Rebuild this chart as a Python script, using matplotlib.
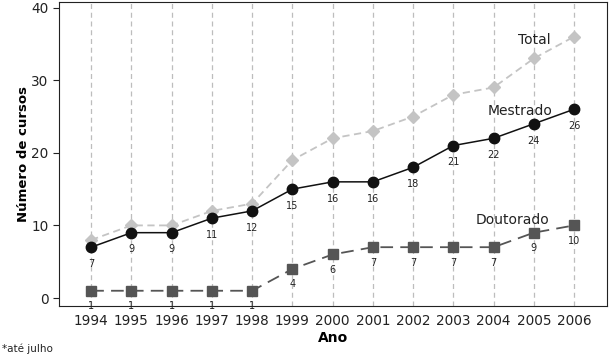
import numpy as np
import matplotlib.pyplot as plt

# --- data ---
anos = [1994, 1995, 1996, 1997, 1998, 1999, 2000, 2001, 2002, 2003, 2004, 2005, 2006]
total = [8, 10, 10, 12, 13, 19, 22, 23, 25, 28, 29, 33, 36]
mestrado = [7, 9, 9, 11, 12, 15, 16, 16, 18, 21, 22, 24, 26]
doutorado = [1, 1, 1, 1, 1, 4, 6, 7, 7, 7, 7, 9, 10]
yticks = [0, 10, 20, 30, 40]

plt.rcParams.update({'font.family': 'DejaVu Sans'})

fig = plt.figure(figsize=(6.11, 3.6), dpi=100)
ax = fig.add_axes([0.0966, 0.15, 0.897, 0.845])

# vertical dashed grid at every year
for a in anos:
    ax.axvline(a, color='#bdbdbd', linestyle=(0, (4, 3)), linewidth=0.9, zorder=0)

ax.plot(anos, total, color='#c4c4c4', linestyle=(0, (4, 2.5)), linewidth=1.3,
        marker='D', markersize=6.5, markerfacecolor='#c4c4c4', markeredgecolor='#c4c4c4', zorder=2)
ax.plot(anos, mestrado, color='#111111', linestyle='-', linewidth=1.1,
        marker='o', markersize=7.5, markerfacecolor='#111111', zorder=3)
ax.plot(anos, doutorado, color='#555555', linestyle=(0, (7, 4)), linewidth=1.3,
        marker='s', markersize=6.5, markerfacecolor='#555555', markeredgecolor='#555555', zorder=3)

# value labels under the markers
for a, m in zip(anos, mestrado):
    ax.annotate(str(m), (a, m), xytext=(0, -8.5), textcoords='offset points',
                ha='center', va='top', fontsize=7, color='#222222')
for a, d in zip(anos, doutorado):
    ax.annotate(str(d), (a, d), xytext=(0, -7.5), textcoords='offset points',
                ha='center', va='top', fontsize=7, color='#222222')

# series names
ax.text(2005.0, 35.6, 'Total', ha='center', va='center', fontsize=10, color='#222222')
ax.text(2004.66, 25.7, 'Mestrado', ha='center', va='center', fontsize=10, color='#222222')
ax.text(2004.46, 10.8, 'Doutorado', ha='center', va='center', fontsize=10, color='#222222')

ax.set_xlim(1993.2, 2006.82)
ax.set_ylim(-1.1, 40.8)
ax.set_xticks(anos)
ax.set_yticks(yticks)
ax.tick_params(axis='x', length=0, labelsize=9.8, pad=6, colors='#222222')
ax.tick_params(axis='y', length=4, labelsize=9.8, colors='#222222')
for s in ax.spines.values():
    s.set_color('#222222')

ax.set_xlabel('Ano', fontsize=10, fontweight='bold', labelpad=2)
ax.set_ylabel('Número de cursos', fontsize=9.5, fontweight='bold', labelpad=1)

fig.text(0.003, 0.03, '*até julho', fontsize=7.5, color='#222222', ha='left', va='center')

plt.savefig('out.png', dpi=100)
